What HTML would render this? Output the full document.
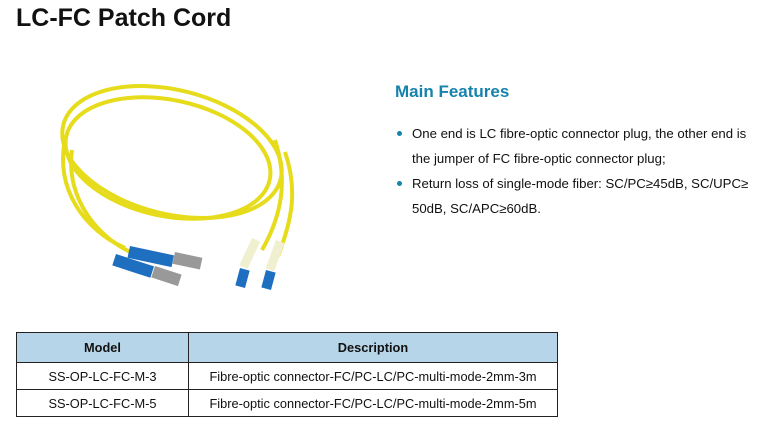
<!DOCTYPE html>
<html><head><style>
body{margin:0;width:762px;height:432px;background:#fff;font-family:"Liberation Sans",sans-serif;position:relative;overflow:hidden}
.t{position:absolute;left:16px;top:4px;font-size:25px;font-weight:bold;color:#111}
.h{position:absolute;left:395px;top:82px;font-size:17px;font-weight:bold;color:#1683ad}
ul{position:absolute;left:397px;top:121px;margin:0;padding:0;list-style:none;width:362px;font-size:13.2px;line-height:25px;color:#111}
li{position:relative;padding-left:15px}
li:before{content:"";position:absolute;left:0;top:10px;width:5px;height:5px;border-radius:50%;background:#1683ad}
table{position:absolute;left:16px;top:332px;border-collapse:collapse;font-size:12.8px;color:#111}
td,th{border:1px solid #222;text-align:center;padding:0}
th{background:#b7d5e9;height:29px;font-weight:bold}
td{height:26px}
</style></head><body>
<div class="t">LC-FC Patch Cord</div>
<svg style="position:absolute;left:30px;top:40px" width="300" height="260" viewBox="0 0 300 260">
<g fill="none" stroke="#e6dc1c" stroke-width="4">
<ellipse cx="142" cy="112" rx="112" ry="62" transform="rotate(14 142 112)"/>
<ellipse cx="138" cy="118" rx="104" ry="58" transform="rotate(12 138 118)"/>
<path d="M35 100 C25 150 55 190 95 208"/>
<path d="M42 110 C35 160 70 200 105 214"/>
<path d="M245 100 C258 140 252 175 232 210"/>
<path d="M255 112 C268 150 262 180 248 216"/>
</g>
<g fill="#1e6fc0"><rect x="100" y="206" width="45" height="12" transform="rotate(12 100 206)"/>
<rect x="86" y="214" width="40" height="12" transform="rotate(18 86 214)"/>
<rect x="210" y="228" width="10" height="18" transform="rotate(15 210 228)"/>
<rect x="236" y="230" width="10" height="18" transform="rotate(15 236 230)"/></g>
<g fill="#999"><rect x="145" y="212" width="28" height="12" transform="rotate(12 145 212)"/>
<rect x="125" y="226" width="28" height="12" transform="rotate(18 125 226)"/></g>
<g fill="#f0efd0"><rect x="222" y="198" width="9" height="30" transform="rotate(25 222 198)"/>
<rect x="246" y="200" width="9" height="30" transform="rotate(20 246 200)"/></g>
</svg>
<div class="h">Main Features</div>
<ul>
<li>One end is LC fibre-optic connector plug, the other end is the jumper of FC fibre-optic connector plug;</li>
<li>Return loss of single-mode fiber: SC/PC≥45dB, SC/UPC≥ 50dB, SC/APC≥60dB.</li>
</ul>
<table>
<tr><th style="width:171px">Model</th><th style="width:368px">Description</th></tr>
<tr><td>SS-OP-LC-FC-M-3</td><td>Fibre-optic connector-FC/PC-LC/PC-multi-mode-2mm-3m</td></tr>
<tr><td>SS-OP-LC-FC-M-5</td><td>Fibre-optic connector-FC/PC-LC/PC-multi-mode-2mm-5m</td></tr>
</table>
</body></html>
